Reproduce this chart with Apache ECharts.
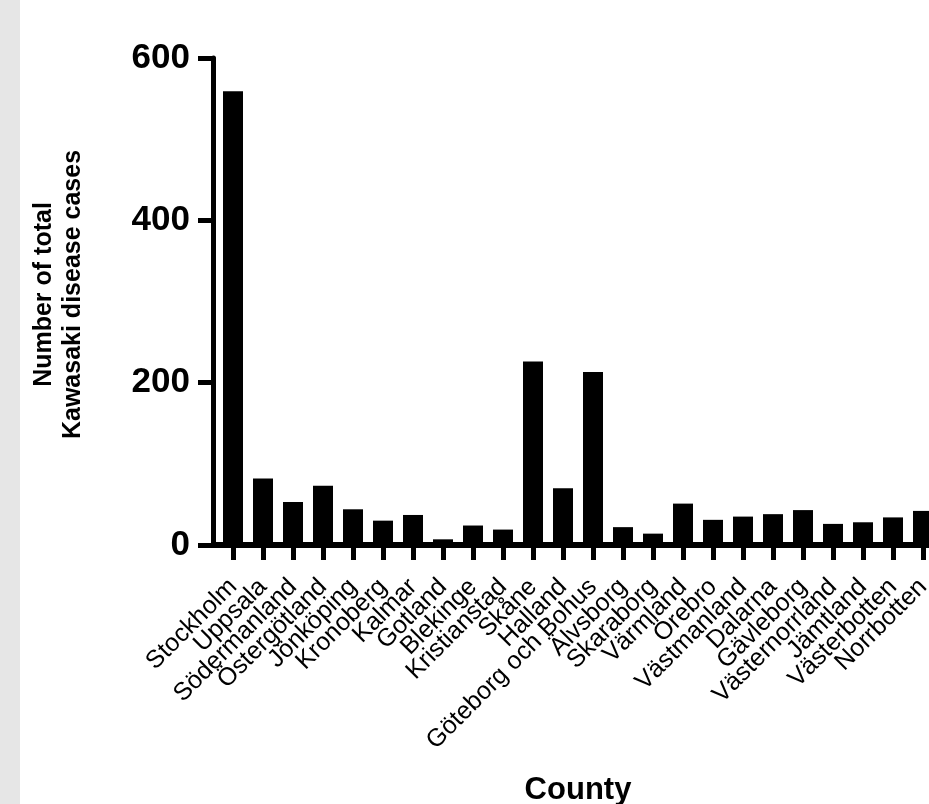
<!DOCTYPE html>
<html>
<head>
<meta charset="utf-8">
<script src="https://cdn.jsdelivr.net/npm/echarts@6/dist/echarts.min.js"></script>
<style>
html,body{margin:0;padding:0;background:#fff;}
#strip{position:absolute;left:0;top:0;width:20px;height:804px;background:#e6e6e6;}
#chart{position:absolute;left:0;top:0;width:929px;height:804px;}
</style>
</head>
<body>
<div id="strip"></div>
<div id="chart"></div>
<script>
const counties = ["Stockholm","Uppsala","Södermanland","Östergötland","Jönköping","Kronoberg","Kalmar","Gotland","Blekinge","Kristianstad","Skåne","Halland","Göteborg och Bohus","Älvsborg","Skaraborg","Värmland","Örebro","Västmanland","Dalarna","Gävleborg","Västernorrland","Jämtland","Västerbotten","Norrbotten"];
const cases = [559,82,53,73,44,30,37,7,24,19,226,70,213,22,14,51,31,35,38,43,26,28,34,42];
const yTicks = [0,200,400,600];

const FONT = '"Liberation Sans", Arial, Helvetica, sans-serif';
const chart = echarts.init(document.getElementById('chart'));
chart.setOption({
  animation: false,
  grid: {left: 218, right: -9, top: 58, bottom: 259, containLabel: false, outerBoundsMode: 'none'},
  xAxis: {
    type: 'category',
    data: counties,
    name: 'County',
    nameLocation: 'middle',
    nameGap: 230,
    nameTextStyle: {fontFamily: FONT, fontWeight: 'bold', fontSize: 31, color: '#000'},
    axisLine: {show: true, lineStyle: {color: '#000', width: 6}},
    axisTick: {show: true, alignWithLabel: true, interval: 0, length: 15, lineStyle: {color: '#000', width: 5}},
    axisLabel: {interval: 0, rotate: 45, margin: 38, fontFamily: FONT, fontSize: 25, color: '#000'}
  },
  yAxis: {
    type: 'value',
    min: yTicks[0],
    max: yTicks[yTicks.length - 1],
    interval: yTicks[1] - yTicks[0],
    offset: 5,
    name: 'Number of total\nKawasaki disease cases',
    nameLocation: 'middle',
    nameGap: 125,
    nameTextStyle: {fontFamily: FONT, fontWeight: 'bold', fontSize: 25, lineHeight: 29, color: '#000', padding: [0, 0, 0, 14]},
    axisLine: {show: true, lineStyle: {color: '#000', width: 5}},
    axisTick: {show: true, length: 15, lineStyle: {color: '#000', width: 5}},
    splitLine: {show: false},
    axisLabel: {margin: 23, fontFamily: FONT, fontWeight: 'bold', fontSize: 35, color: '#000'}
  },
  series: [{
    type: 'bar',
    data: cases,
    barWidth: 20,
    itemStyle: {color: '#000'}
  }]
});
// bridge the small gap between the offset y-axis and the x-axis start
const p0 = chart.convertToPixel({gridIndex: 0}, [0, 0]);
const bandHalf = (chart.convertToPixel({gridIndex: 0}, [1, 0])[0] - p0[0]) / 2;
const gridLeft = p0[0] - bandHalf;
chart.setOption({
  graphic: [{type: 'rect', shape: {x: gridLeft - 6, y: p0[1] - 3, width: 7, height: 6}, style: {fill: '#000'}, z: 10}]
});
</script>
</body>
</html>
